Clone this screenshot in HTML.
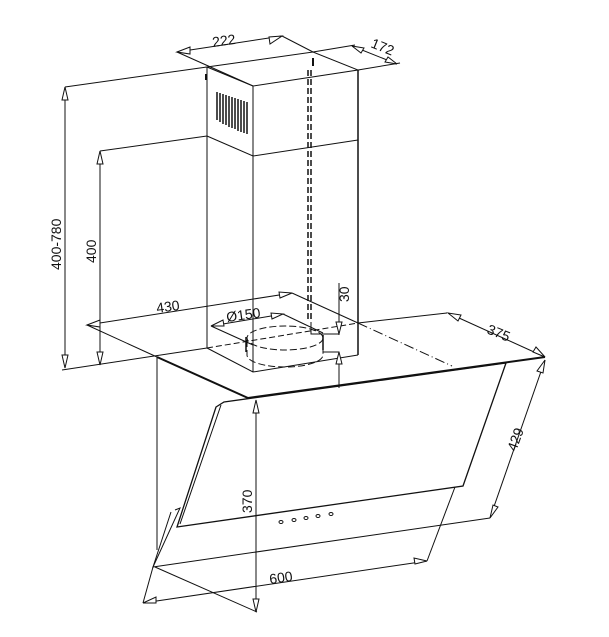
<!DOCTYPE html>
<html><head><style>
html,body{margin:0;padding:0;background:#fff;}
svg{display:block;}
text{font-family:"Liberation Sans",sans-serif;font-size:14px;fill:#111;}
</style></head><body>
<svg width="609" height="637" viewBox="0 0 609 637" xmlns="http://www.w3.org/2000/svg">
<g stroke="#111" stroke-width="1" fill="none">
<!-- chimney top box -->
<polygon points="207,67 253,86 358,70 313,52"/>
<line x1="207" y1="67" x2="207" y2="348"/>
<line x1="253" y1="86" x2="253" y2="372"/>
<line x1="358" y1="70" x2="358" y2="355" stroke-width="1.5"/>
<polyline points="207,136 253,156 358,140"/>
<line x1="206" y1="74" x2="206" y2="80" stroke-width="2"/>
<line x1="313" y1="58" x2="313" y2="66" stroke-width="2"/>
<!-- grille -->
<g stroke-width="1.5">
<line x1="217" y1="92" x2="217" y2="120"/><line x1="220" y1="93" x2="220" y2="122"/><line x1="223" y1="94" x2="223" y2="124"/><line x1="226" y1="95" x2="226" y2="125"/><line x1="229" y1="96" x2="229" y2="127"/><line x1="232" y1="97" x2="232" y2="128"/><line x1="235" y1="98" x2="235" y2="129"/><line x1="238" y1="99" x2="238" y2="131"/><line x1="241" y1="100" x2="241" y2="132"/><line x1="244" y1="101" x2="244" y2="133"/><line x1="247" y1="102" x2="247" y2="134"/>
</g>
<!-- dashed duct line -->
<line x1="308" y1="70" x2="308" y2="322" stroke-dasharray="6,3" stroke-width="1.5"/>
<line x1="311" y1="70" x2="311" y2="322" stroke-dasharray="6,3" stroke-width="1.5"/>
<!-- chimney base / platform -->
<line x1="62" y1="370" x2="207" y2="348"/>
<line x1="207" y1="348" x2="358" y2="323" stroke-dasharray="6,3"/>
<line x1="358" y1="323" x2="447" y2="313"/>
<polyline points="207,348 253,372 358,355"/>
<line x1="292" y1="293" x2="358" y2="323"/>
<line x1="358" y1="323" x2="452" y2="366" stroke-dasharray="10,3,1,3"/>
<!-- 222 -->
<line x1="177" y1="52" x2="282" y2="36"/>
<line x1="177" y1="52" x2="253" y2="86"/>
<line x1="282" y1="36" x2="313" y2="52"/>
<!-- 172 -->
<line x1="358" y1="70" x2="400" y2="63"/>
<line x1="313" y1="52" x2="355" y2="45"/>
<line x1="352" y1="46" x2="397" y2="64"/>
<!-- 400-780 -->
<line x1="65" y1="87" x2="65" y2="368"/>
<line x1="65" y1="87" x2="207" y2="67"/>
<!-- 400 -->
<line x1="100" y1="151" x2="100" y2="365"/>
<line x1="100" y1="151" x2="207" y2="136"/>
<!-- 430 -->
<line x1="87" y1="325" x2="292" y2="293"/>
<line x1="87" y1="325" x2="157" y2="357"/>
<!-- 150 -->
<line x1="211" y1="326" x2="283" y2="314"/>
<line x1="211" y1="326" x2="253" y2="345"/>
<line x1="283" y1="314" x2="323" y2="333"/>
<ellipse cx="285" cy="338" rx="38" ry="12" stroke-dasharray="7,3"/>
<path d="M247,340 v15 a38,12 0 0 0 76,0 v-15" stroke-dasharray="7,3"/>
<line x1="246" y1="337" x2="246" y2="352" stroke-width="1.5"/>
<line x1="323" y1="335" x2="323" y2="350" stroke-width="1.5"/>
<!-- 30 -->
<line x1="339" y1="283" x2="339" y2="335"/>
<polyline points="311,322 311,334 339,334"/>
<polyline points="323,352 339,352 339,388"/>
<!-- hood top -->
<line x1="157" y1="357" x2="248" y2="398" stroke-width="2"/>
<line x1="248" y1="398" x2="545" y2="357" stroke-width="2"/>
<line x1="157" y1="357" x2="157" y2="550"/>
<!-- glass -->
<path d="M224,402 L506,363 L463,486 L177,527 L216,407 Z" stroke-width="1.3"/>
<path d="M221,405 L180,524" />
<!-- lower panel -->
<path d="M175,510 L180,508 L153,567 L490,518"/>
<path d="M171,512 L153,567"/>
<line x1="455" y1="487" x2="427" y2="561"/>
<line x1="490" y1="518" x2="545" y2="360"/>
<!-- 600 -->
<line x1="143" y1="603" x2="427" y2="561"/>
<line x1="153" y1="567" x2="143" y2="603"/>
<line x1="155" y1="567" x2="257" y2="612"/>
<!-- 370 -->
<line x1="256" y1="400" x2="256" y2="612"/>
<!-- 375 -->
<line x1="448" y1="313" x2="545" y2="357"/>
<!-- arrows -->
<g fill="#fff">
<polygon points="177,52 190,47 190,54"/>
<polygon points="282,36 269,37 270,44"/>
<polygon points="352,46 364,48 361,53"/>
<polygon points="397,64 385,62 388,57"/>
<polygon points="65,87 62,100 68,100"/>
<polygon points="65,368 62,355 68,355"/>
<polygon points="100,151 97,164 103,164"/>
<polygon points="100,365 97,352 103,352"/>
<polygon points="87,325 100,320 100,327"/>
<polygon points="292,293 279,292 280,298"/>
<polygon points="211,326 223,320 224,326"/>
<polygon points="283,314 271,313 272,319"/>
<polygon points="339,334 336,322 342,322"/>
<polygon points="339,352 336,364 342,364"/>
<polygon points="448,313 458,321 461,315"/>
<polygon points="545,357 533,352 536,347"/>
<polygon points="545,360 537,371 543,373"/>
<polygon points="490,518 493,505 498,507"/>
<polygon points="143,603 156,597 156,603"/>
<polygon points="427,561 414,558 415,564"/>
<polygon points="256,400 253,413 259,413"/>
<polygon points="256,612 253,599 259,599"/>
</g>
<!-- buttons -->
<ellipse cx="281" cy="522" rx="2" ry="1.5"/>
<ellipse cx="294" cy="520" rx="2" ry="1.5"/>
<ellipse cx="306" cy="518" rx="2" ry="1.5"/>
<ellipse cx="318" cy="516" rx="2" ry="1.5"/>
<ellipse cx="331" cy="514" rx="2" ry="1.5"/>
</g>
<text transform="translate(213,47) rotate(-8)">222</text>
<text transform="translate(370,47) rotate(22)">172</text>
<text transform="translate(61,270) rotate(-90)">400-780</text>
<text transform="translate(96,263) rotate(-90)">400</text>
<text transform="translate(157,313) rotate(-8)">430</text>
<text transform="translate(227,322) rotate(-8)">Ø150</text>
<text transform="translate(349,302) rotate(-90)">30</text>
<text transform="translate(486,333) rotate(22)">375</text>
<text transform="translate(516,452) rotate(-70)">429</text>
<text transform="translate(252,513) rotate(-90)">370</text>
<text transform="translate(270,584) rotate(-8)">600</text>
</svg>
</body></html>
